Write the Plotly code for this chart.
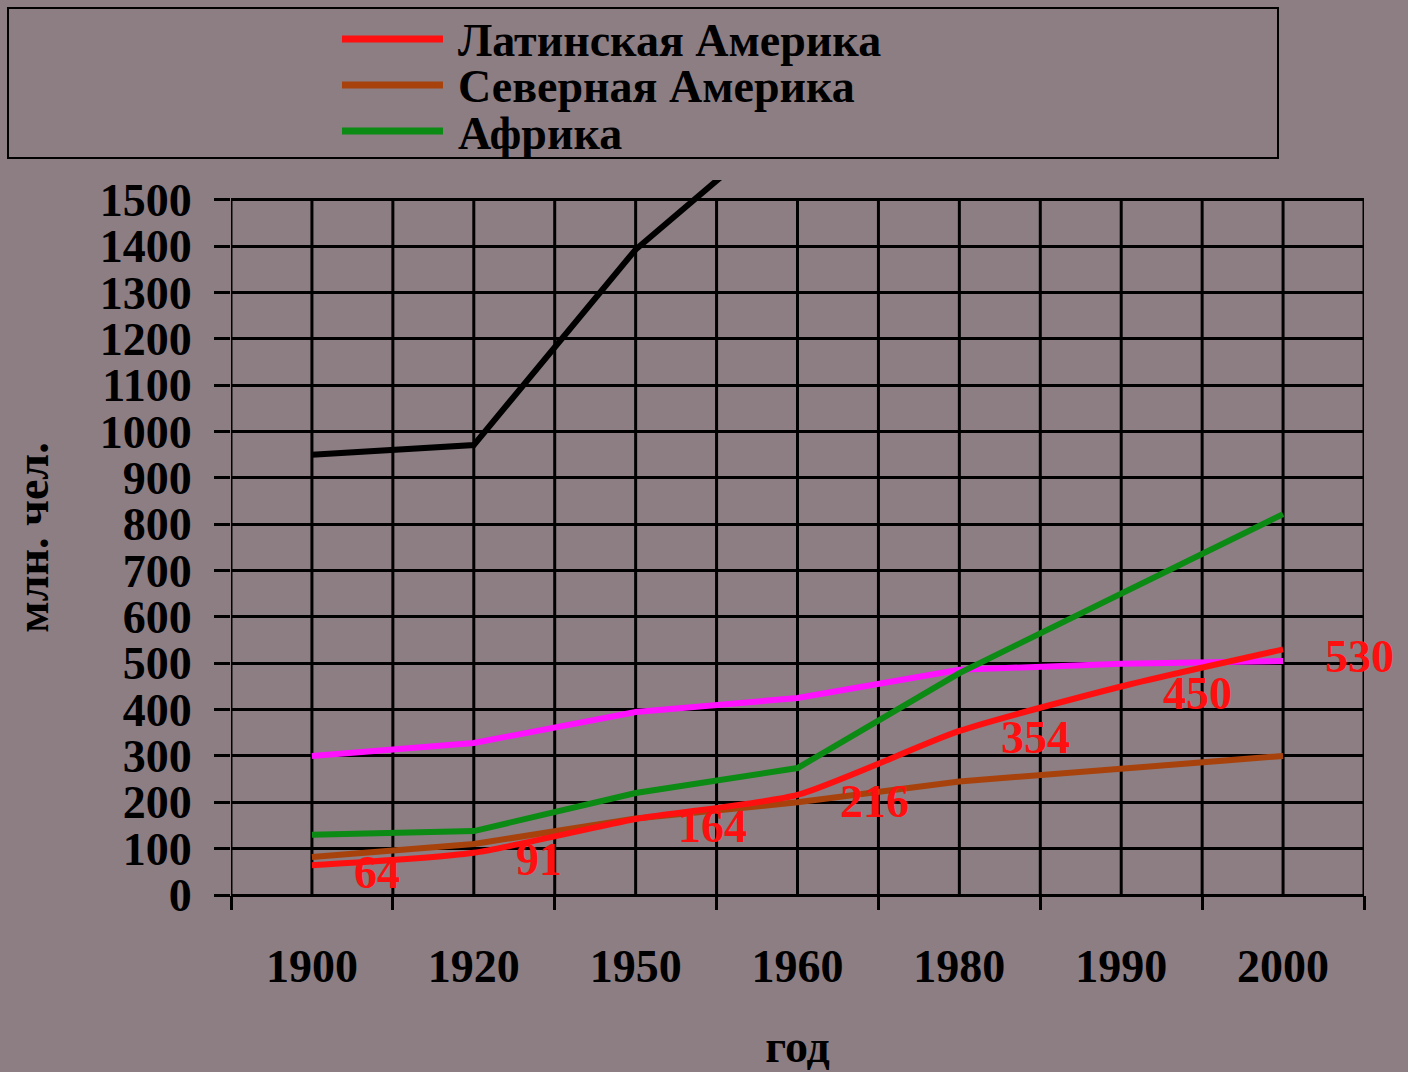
import plotly.graph_objects as go

# ---------------- data ----------------
years = ["1900", "1920", "1950", "1960", "1980", "1990", "2000"]
latin_america = [64, 91, 164, 216, 354, 450, 530]
north_america = [82, 110, 165, 200, 245, 272, 300]
africa = [130, 138, 220, 274, 479, 652, 822]
europe = [300, 328, 395, 425, 486, 499, 505]
asia = [950, 971, 1393, 1690, 2600, 3100, 3700]
y_ticks = list(range(0, 1501, 100))

legend_names = ["Латинская Америка", "Северная Америка", "Африка"]
legend_colors = ["#ff1010", "#a8420c", "#0b8a14"]

# ---------------- layout geometry (pixels) ----------------
W_FIG, H_FIG = 1408, 1072
L, R, T, B = 231, 1364, 180, 895
Y_MAX = 1543
GRID_TOP = 1500
FONT = "Liberation Serif"
BG = "#8c7e83"

def px_x(p):
    return (p - L) / (R - L)

def px_y(p):
    return (B - p) / (B - T)

xs = list(range(len(years)))

fig = go.Figure()
fig.add_trace(go.Scatter(x=xs, y=asia, mode="lines", name="Азия",
                         line=dict(color="black", width=6), showlegend=False))
fig.add_trace(go.Scatter(x=xs, y=europe, mode="lines", name="Европа",
                         line=dict(color="#ff10ff", width=6), showlegend=False))
fig.add_trace(go.Scatter(x=xs, y=africa, mode="lines", name=legend_names[2],
                         line=dict(color=legend_colors[2], width=6), showlegend=False))
fig.add_trace(go.Scatter(x=xs, y=north_america, mode="lines", name=legend_names[1],
                         line=dict(color=legend_colors[1], width=6), showlegend=False))
fig.add_trace(go.Scatter(x=xs, y=latin_america, mode="lines", name=legend_names[0],
                         line=dict(color=legend_colors[0], width=6, shape="spline", smoothing=0.6),
                         showlegend=False))

shapes = []
# vertical grid lines (category centres and boundaries), stopping at 1500
n = len(years)
for k in range(2 * n + 1):
    xv = -0.5 + 0.5 * k
    shapes.append(dict(type="line", xref="x", yref="y", x0=xv, x1=xv, y0=0, y1=GRID_TOP,
                       line=dict(color="black", width=3), layer="below"))

# legend box
shapes.append(dict(type="rect", xref="paper", yref="paper",
                   x0=px_x(8), x1=px_x(1278), y0=px_y(158), y1=px_y(8),
                   line=dict(color="black", width=2), fillcolor="rgba(0,0,0,0)"))

annotations = []
# legend entries
leg_line_y = [39, 85, 131]
leg_text_y = [41, 87, 133]
for name, col, ly, ty in zip(legend_names, legend_colors, leg_line_y, leg_text_y):
    shapes.append(dict(type="line", xref="paper", yref="paper",
                       x0=px_x(342), x1=px_x(443), y0=px_y(ly), y1=px_y(ly),
                       line=dict(color=col, width=7)))
    annotations.append(dict(xref="paper", yref="paper", x=px_x(456), y=px_y(ty),
                            xanchor="left", yanchor="middle", showarrow=False,
                            text="<b>" + name + "</b>",
                            font=dict(family=FONT, size=46, color="black")))

# data labels for Latin America
for i, v in enumerate(latin_america):
    annotations.append(dict(x=i, y=v, xref="x", yref="y", text="<b>%d</b>" % v, showarrow=False,
                            xanchor="left", yanchor="middle", xshift=40, yshift=-7,
                            font=dict(family=FONT, size=46, color="#ff1010")))

fig.update_layout(
    width=W_FIG, height=H_FIG,
    margin=dict(l=L, r=W_FIG - R, t=T, b=H_FIG - B, pad=0, autoexpand=False),
    paper_bgcolor=BG, plot_bgcolor=BG,
    showlegend=False,
    shapes=shapes, annotations=annotations,
    font=dict(family=FONT, color="black"),
)

fig.update_xaxes(
    range=[-0.5, n - 0.5], automargin=False,
    tickmode="array", tickvals=xs, ticktext=["<b>" + y + "</b>" for y in years],
    ticks="", showgrid=False, zeroline=False, showline=False,
    tickfont=dict(family=FONT, size=46, color="black"),
    ticklabelstandoff=40,
    minor=dict(tickmode="array", tickvals=[i - 0.5 for i in range(n + 1)],
               ticks="outside", ticklen=14, tickwidth=3, tickcolor="black", showgrid=False),
    title=dict(text="<b>год</b>", font=dict(family=FONT, size=46, color="black"), standoff=41),
)

fig.update_yaxes(
    range=[0, Y_MAX], automargin=False,
    tickmode="array", tickvals=y_ticks, ticktext=["<b>%d</b>" % v for v in y_ticks],
    ticks="outside", ticklen=16, tickwidth=3, tickcolor="black",
    showgrid=True, gridcolor="black", gridwidth=3,
    zeroline=True, zerolinecolor="black", zerolinewidth=3,
    showline=False,
    tickfont=dict(family=FONT, size=46, color="black"),
    ticklabelstandoff=13,
    title=dict(text="<b>млн. чел.</b>", font=dict(family=FONT, size=46, color="black"), standoff=36),
)

fig.write_html("out.html", config={"displayModeBar": False},
               post_script="document.body.style.margin='0';document.body.style.overflow='hidden';")
